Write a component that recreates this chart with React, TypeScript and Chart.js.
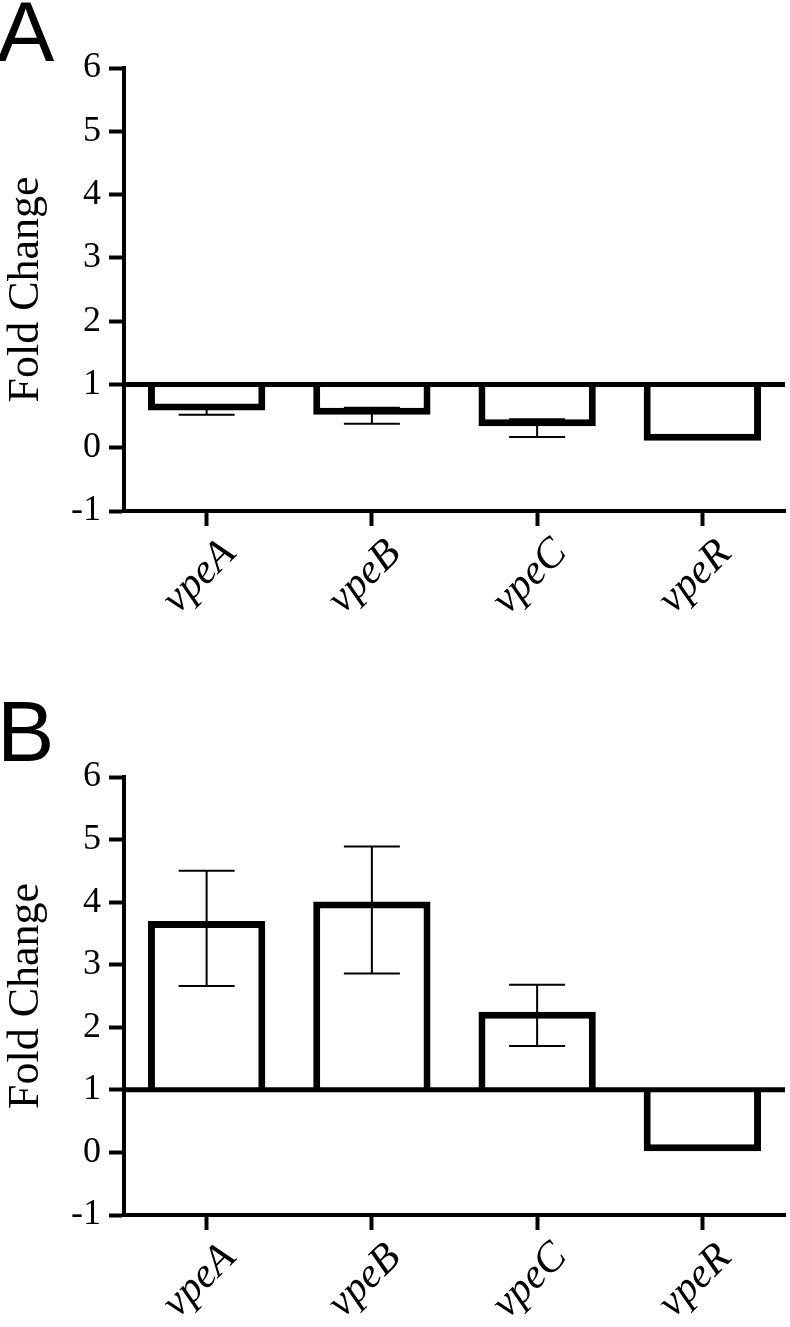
import React, { useEffect, useRef } from "react";
import { Chart, registerables } from "chart.js";

Chart.register(...registerables);

// ---- data ----
const categories = ["vpeA", "vpeB", "vpeC", "vpeR"];
const yTickValues = [-1, 0, 1, 2, 3, 4, 5, 6];
const baselineValue = 1;

const foldA = [0.59, 0.52, 0.34, 0.11];
const lowA = [0.52, 0.38, 0.17, 0.11];
const highA = [0.65, 0.63, 0.45, 0.11];

const foldB = [3.7, 4.01, 2.25, 0.02];
const lowB = [2.66, 2.86, 1.7, 0.02];
const highB = [4.5, 4.89, 2.68, 0.02];

const SERIF = "'Liberation Serif', 'Times New Roman', serif";

type PanelProps = {
  letter: string;
  top: number;
  height: number;
  areaTop: number;
  areaBottom: number;
  values: number[];
  lows: number[];
  highs: number[];
};

function Panel({ letter, top, height, areaTop, areaBottom, values, lows, highs }: PanelProps) {
  const ref = useRef<HTMLCanvasElement>(null);

  useEffect(() => {
    if (!ref.current) return;

    const refLine = {
      id: "refLine",
      afterDatasetsDraw(chart: any) {
        const { ctx, chartArea, scales } = chart;
        const y = scales.y.getPixelForValue(baselineValue);
        ctx.save();
        ctx.strokeStyle = "#000";
        ctx.lineWidth = 5;
        ctx.beginPath();
        ctx.moveTo(chartArea.left, y);
        ctx.lineTo(chartArea.right, y);
        ctx.stroke();
        ctx.restore();
      },
    };

    const errorBars = {
      id: "errorBars",
      afterDatasetsDraw(chart: any) {
        const { ctx, scales } = chart;
        ctx.save();
        ctx.strokeStyle = "#000";
        ctx.lineWidth = 2;
        const cap = 28;
        categories.forEach((_, i) => {
          if (lows[i] === highs[i]) return;
          const x = scales.x.getPixelForValue(i);
          const yl = scales.y.getPixelForValue(lows[i]);
          const yh = scales.y.getPixelForValue(highs[i]);
          ctx.beginPath();
          ctx.moveTo(x, yl);
          ctx.lineTo(x, yh);
          ctx.moveTo(x - cap, yl);
          ctx.lineTo(x + cap, yl);
          ctx.moveTo(x - cap, yh);
          ctx.lineTo(x + cap, yh);
          ctx.stroke();
        });
        ctx.restore();
      },
    };

    // category labels rotated about their centre
    const xLabels = {
      id: "xLabels",
      afterDraw(chart: any) {
        const { ctx, scales } = chart;
        const xs = scales.x;
        ctx.save();
        ctx.fillStyle = "#000";
        ctx.font = `italic 42px ${SERIF}`;
        ctx.textAlign = "center";
        ctx.textBaseline = "middle";
        categories.forEach((c, i) => {
          const x = xs.getPixelForValue(i) - 7;
          const y = xs.top + 66;
          ctx.save();
          ctx.translate(x, y);
          ctx.rotate(-Math.PI / 4);
          ctx.fillText(c, 0, 0);
          ctx.restore();
        });
        ctx.restore();
      },
    };

    const chart = new Chart(ref.current, {
      type: "bar",
      data: {
        labels: categories,
        datasets: [
          {
            data: values.map((v) => [baselineValue, v]) as any,
            backgroundColor: "#fff",
            borderColor: "#000",
            borderWidth: 7,
            borderSkipped: ((c: any) =>
              values[c.dataIndex] < baselineValue ? "top" : "bottom") as any,
            barPercentage: 0.71,
            categoryPercentage: 1,
          },
        ],
      },
      options: {
        responsive: false,
        animation: false,
        devicePixelRatio: 1,
        layout: { padding: { top: areaTop, right: 5, left: 0, bottom: 0 } },
        plugins: { legend: { display: false }, tooltip: { enabled: false } },
        scales: {
          x: {
            type: "category",
            offset: true,
            grid: {
              offset: false,
              drawOnChartArea: false,
              drawTicks: true,
              tickLength: 15,
              tickWidth: 4,
              tickColor: "#000",
            },
            border: { display: true, color: "#000", width: 4 },
            ticks: { display: false },
            afterFit: (s: any) => {
              s.height = height - areaBottom;
            },
          },
          y: {
            type: "linear",
            min: -1,
            max: 6,
            afterBuildTicks: (s: any) => {
              s.ticks = yTickValues.map((v) => ({ value: v }));
            },
            grid: {
              drawOnChartArea: false,
              drawTicks: true,
              tickLength: 15,
              tickWidth: 4,
              tickColor: "#000",
            },
            border: { display: true, color: "#000", width: 4 },
            ticks: {
              color: "#000",
              font: { family: SERIF, size: 36 },
              padding: 8,
            },
            title: {
              display: true,
              text: "Fold Change",
              color: "#000",
              font: { family: SERIF, size: 44 },
              padding: 0,
            },
            afterFit: (s: any) => {
              s.width = 124;
            },
          },
        },
      },
      plugins: [refLine, errorBars, xLabels],
    });

    return () => chart.destroy();
  }, []);

  return (
    <div style={{ position: "absolute", left: 0, top, width: 790, height }}>
      <canvas ref={ref} width={790} height={height} style={{ display: "block" }} />
      <div
        style={{
          position: "absolute",
          left: -3,
          top: -12,
          fontFamily: "'Liberation Sans', Arial, sans-serif",
          fontSize: 86,
          lineHeight: 1,
          color: "#000",
        }}
      >
        {letter}
      </div>
    </div>
  );
}

export default function App() {
  return (
    <div
      style={{
        position: "absolute",
        left: 0,
        top: 0,
        width: 790,
        height: 1327,
        overflow: "hidden",
        background: "#fff",
      }}
    >
      <Panel letter="A" top={0} height={680} areaTop={68} areaBottom={511} values={foldA} lows={lowA} highs={highA} />
      <Panel letter="B" top={700} height={627} areaTop={77} areaBottom={515} values={foldB} lows={lowB} highs={highB} />
    </div>
  );
}
